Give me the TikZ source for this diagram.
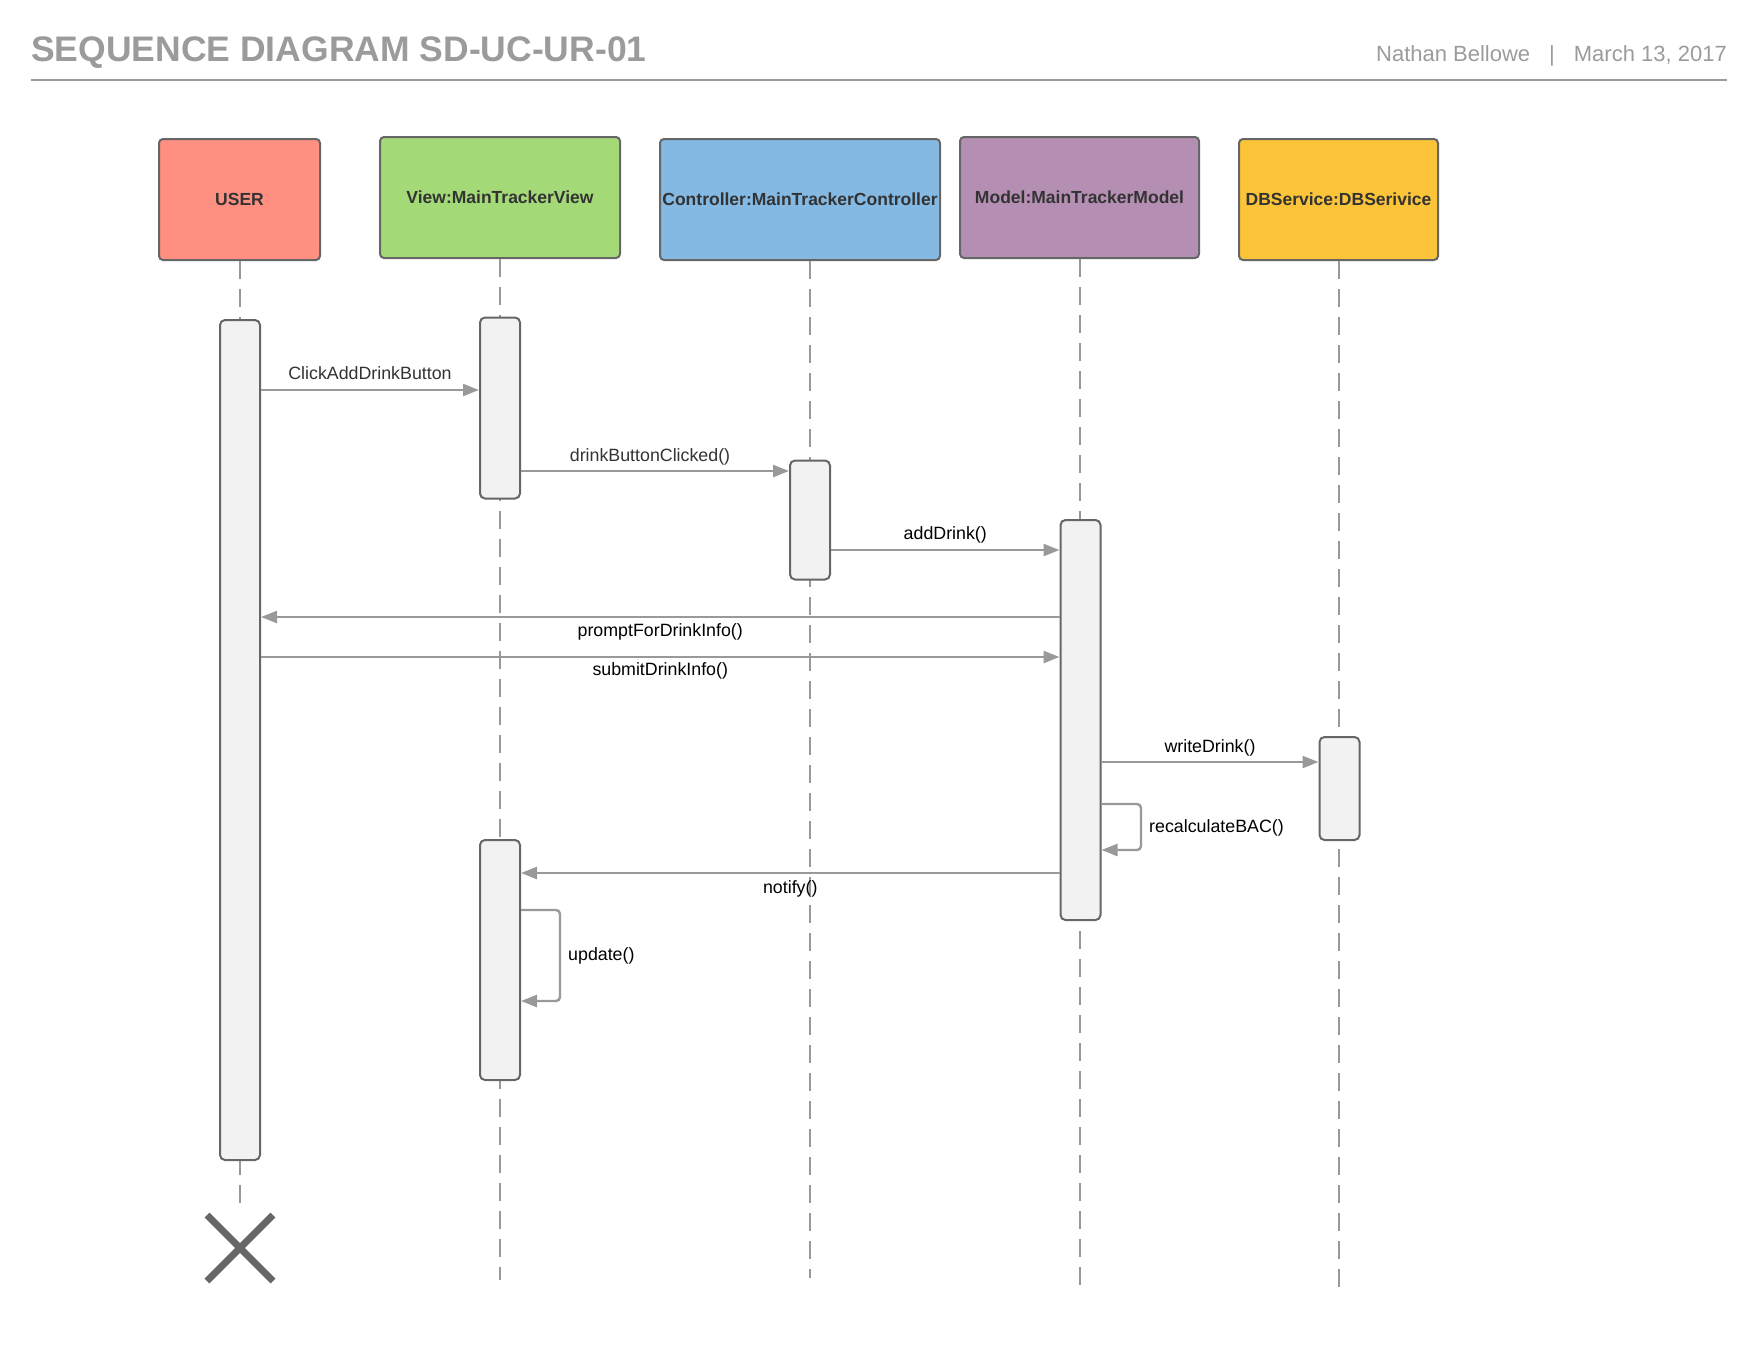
\documentclass[tikz,border=0pt]{standalone}
\usepackage{fontspec}
\setmainfont{Liberation Sans}
\usetikzlibrary{arrows.meta,shapes.misc}
\definecolor{Ink}{HTML}{333333}
\definecolor{Edge}{HTML}{666666}
\definecolor{Wire}{HTML}{999999}
\definecolor{Muted}{HTML}{9B9B9B}
\definecolor{ActFill}{HTML}{F2F2F2}
\definecolor{UserRed}{HTML}{FF8F80}
\definecolor{ViewGreen}{HTML}{A3D977}
\definecolor{CtrlBlue}{HTML}{83B9E3}
\definecolor{ModelPurple}{HTML}{B48FB3}
\definecolor{DbYellow}{HTML}{FCC438}

\begin{document}
\begin{tikzpicture}[x=1pt,y=-1pt,
  head/.style={draw=Edge,line width=2pt,rounded corners=4pt,inner sep=0pt,minimum height=121pt,text=Ink,font=\fontsize{17.5}{21}\selectfont\bfseries},
  act/.style={draw=Edge,fill=ActFill,line width=2pt,rounded corners=5pt,minimum width=40pt,inner sep=0pt},
  lifeline/.style={Wire,line width=2pt,dash pattern=on 18pt off 10pt},
  msg/.style={-{Triangle[length=16pt,width=12pt]},Wire,line width=2.4pt},
  msgtxt/.style={font=\fontsize{17.8}{21}\selectfont,text=black,inner sep=0pt,anchor=base}]
\useasboundingbox (0,0) rectangle (1760,1360);
% header
\node[anchor=base west,inner sep=0pt,text=Muted,font=\fontsize{35.5}{40}\selectfont\bfseries] (title) at (31,61.5) {SEQUENCE DIAGRAM SD-UC-UR-01};
\node[anchor=base east,inner sep=0pt,text=Muted,font=\fontsize{22}{26}\selectfont] (byline) at (1727,61) {Nathan Bellowe\hspace{19pt}|\hspace{19pt}March 13, 2017};
\draw[Muted,line width=2.5pt] (title.west |- 0,80) -- (byline.east |- 0,80);
% lifeline heads
\node[head,fill=UserRed,minimum width=161pt] (user) at (239.5,199.5) {USER};
\node[head,fill=ViewGreen,minimum width=240pt] (view) at (500,197.5) {View:MainTrackerView};
\node[head,fill=CtrlBlue,minimum width=280pt] (ctrl) at (800,199.5) {Controller:MainTrackerController};
\node[head,fill=ModelPurple,minimum width=239pt] (model) at (1079.5,197.5) {Model:MainTrackerModel};
\node[head,fill=DbYellow,minimum width=199pt] (db) at (1338.5,199.5) {DBService:DBSerivice};
% lifelines
\coordinate (userEnd) at (239.5,1207);
\coordinate (viewEnd) at (500,1280);
\coordinate (ctrlEnd) at (809.5,1278);
\coordinate (modelEnd) at (1079.5,1289);
\coordinate (dbEnd) at (1338.5,1289);
\draw[lifeline] (user.south) -- (userEnd);
\draw[lifeline] (view.south) -- (viewEnd);
\draw[lifeline] (ctrl.south -| ctrlEnd) -- (ctrlEnd);
\draw[lifeline] (model.south) -- (modelEnd);
\draw[lifeline] (db.south) -- (dbEnd);
% activations
\node[act,minimum height=840pt] (userAct) at (240,740) {};
\node[act,minimum height=181pt] (viewAct) at (500,408) {};
\node[act,minimum height=119pt] (ctrlAct) at (810,520) {};
\node[act,minimum height=400pt] (modelAct) at (1080.5,720) {};
\node[act,minimum height=103pt] (dbAct) at (1339.5,788.5) {};
\node[act,minimum height=240pt] (viewAct2) at (500,960) {};
\node[cross out,draw=Edge,line width=7pt,minimum size=59pt,inner sep=0pt] (userKill) at (240,1248) {};
% messages
\draw[msg] (userAct.east |- 0,390) -- node[msgtxt,text=Ink,yshift=11pt] {ClickAddDrinkButton} (viewAct.west |- 0,390);
\draw[msg] (viewAct.east |- 0,471) -- node[msgtxt,text=Ink,yshift=10pt,xshift=-5pt] {drinkButtonClicked()} (ctrlAct.west |- 0,471);
\draw[msg] (ctrlAct.east |- 0,550) -- node[msgtxt,yshift=10.5pt] {addDrink()} (modelAct.west |- 0,550);
\draw[msg] (modelAct.west |- 0,617) -- node[msgtxt,yshift=-19pt] {promptForDrinkInfo()} (userAct.east |- 0,617);
\draw[msg] (userAct.east |- 0,657) -- node[msgtxt,yshift=-18.5pt] {submitDrinkInfo()} (modelAct.west |- 0,657);
\draw[msg] (modelAct.east |- 0,762) -- node[msgtxt,yshift=10pt] {writeDrink()} (dbAct.west |- 0,762);
\draw[msg,rounded corners=4pt] (modelAct.east |- 0,804) -| (1141,850) -- (modelAct.east |- 0,850);
\node[msgtxt,anchor=base west] (bacTxt) at (1149,832) {recalculateBAC()};
\draw[msg] (modelAct.west |- 0,873) -- node[msgtxt,yshift=-20pt] {notify()} (viewAct2.east |- 0,873);
\draw[msg,rounded corners=4pt] (viewAct2.east |- 0,910) -| (560,1001) -- (viewAct2.east |- 0,1001);
\node[msgtxt,anchor=base west] (updTxt) at (568,960) {update()};
\end{tikzpicture}
\end{document}
